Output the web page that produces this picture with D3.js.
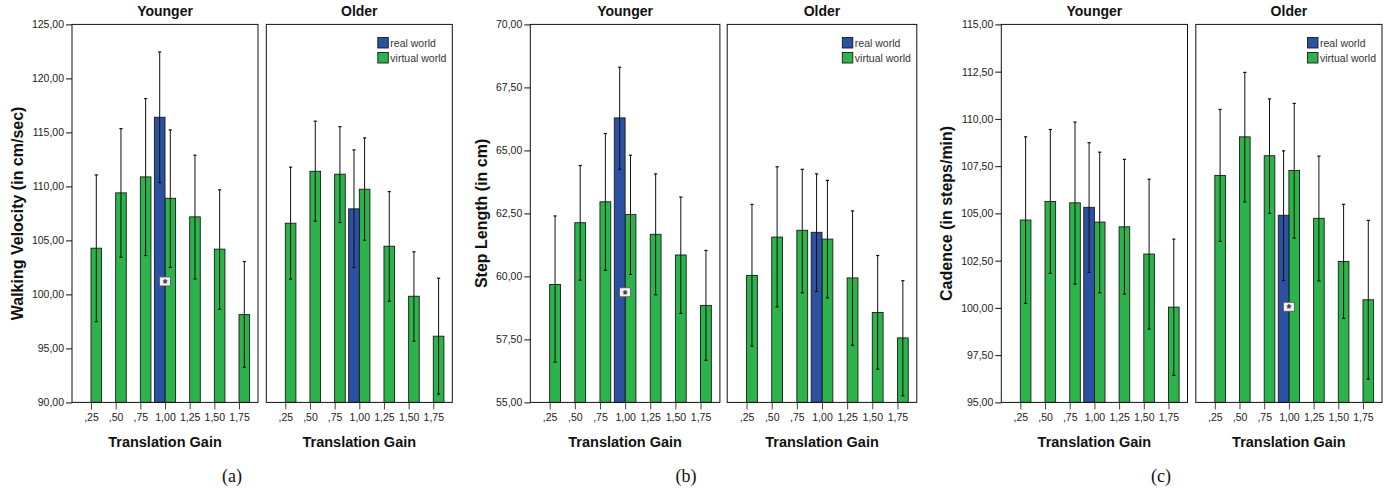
<!DOCTYPE html>
<html>
<head>
<meta charset="utf-8">
<script src="https://cdn.jsdelivr.net/npm/d3@7"></script>
<style>
  body { margin: 0; background: #fff; }
  svg { display: block; font-family: "Liberation Sans", Arial, sans-serif; }
  .tick text { fill: #222; }
</style>
</head>
<body>
<svg id="chart" width="1398" height="495"></svg>
<script>
// categories
const gains = [",25", ",50", ",75", "1,00", "1,25", "1,50", "1,75"];
const groups = ["Younger", "Older"];
const seriesNames = ["real world", "virtual world"];

// (a) walking velocity -- virtual world means + error bar ends, real world [mean, lo, hi]
const velYoungMean = [104.28, 109.4, 110.88, 108.9, 107.18, 104.19, 98.13];
const velYoungLo   = [97.48, 103.44, 103.6, 102.5, 101.43, 98.63, 93.26];
const velYoungHi   = [111.06, 115.35, 118.13, 115.23, 112.89, 109.68, 103.04];
const velYoungReal = [116.4, 110.35, 122.45];
const velOldMean = [106.59, 111.4, 111.13, 109.74, 104.46, 99.83, 96.13];
const velOldLo   = [101.41, 106.78, 106.65, 105.02, 99.37, 95.67, 90.76];
const velOldHi   = [111.78, 116.04, 115.54, 114.49, 109.52, 103.94, 101.5];
const velOldReal = [107.92, 102.48, 113.38];

// (b) step length
const stepYoungMean = [59.68, 62.13, 62.96, 62.46, 61.67, 60.85, 58.85];
const stepYoungLo   = [56.6, 59.85, 60.24, 60.08, 59.27, 58.53, 56.67];
const stepYoungHi   = [62.4, 64.4, 65.67, 64.81, 64.07, 63.15, 61.03];
const stepYoungReal = [66.29, 64.25, 68.3];
const stepOldMean = [60.04, 61.56, 61.83, 61.48, 59.94, 58.57, 57.56];
const stepOldLo   = [57.23, 58.79, 59.35, 59.15, 57.27, 56.32, 55.26];
const stepOldHi   = [62.86, 64.35, 64.25, 63.81, 62.6, 60.83, 59.83];
const stepOldReal = [61.75, 59.4, 64.07];

// (c) cadence
const cadYoungMean = [104.65, 105.63, 105.56, 104.54, 104.29, 102.85, 100.04];
const cadYoungLo   = [100.24, 101.83, 101.26, 100.8, 100.73, 98.88, 96.43];
const cadYoungHi   = [109.05, 109.44, 109.83, 108.24, 107.86, 106.81, 103.64];
const cadYoungReal = [105.32, 101.88, 108.74];
const cadOldMean = [107.01, 109.05, 108.05, 107.27, 104.74, 102.46, 100.43];
const cadOldLo   = [103.52, 105.61, 105.0, 103.69, 101.43, 99.44, 96.23];
const cadOldHi   = [110.5, 112.46, 111.06, 110.82, 108.03, 105.48, 104.63];
const cadOldReal = [104.9, 101.45, 108.31];

// significance markers (value at 1,00; null = none) per group
const velStars = [101.2, null];
const stepStars = [59.37, null];
const cadStars = [null, 100.06];

// y axis ticks
const velTicks = d3.range(90, 125.01, 5);
const stepTicks = d3.range(55, 70.01, 2.5);
const cadTicks = d3.range(95, 115.01, 2.5);

// Page variables
const plotTop = 24.4, plotBottom = 402.4;
const colors = {real: "#2b52a2", virtual: "#2db34b"};

const locale = d3.formatLocale({decimal: ",", thousands: ".", grouping: [3], currency: ["", ""]});
const fmt = locale.format(".2f");

const panels = [
  {tag: "(a)", tagX: 232, label: "Walking Velocity (in cm/sec)", labelX: 17,
   x0: 72, facetW: 186, gap: 8.3, ticks: velTicks, stars: velStars,
   data: [[velYoungMean, velYoungLo, velYoungHi, velYoungReal], [velOldMean, velOldLo, velOldHi, velOldReal]]},
  {tag: "(b)", tagX: 686, label: "Step Length (in cm)", labelX: 481.5,
   x0: 530.3, facetW: 189.6, gap: 7.3, ticks: stepTicks, stars: stepStars,
   data: [[stepYoungMean, stepYoungLo, stepYoungHi, stepYoungReal], [stepOldMean, stepOldLo, stepOldHi, stepOldReal]]},
  {tag: "(c)", tagX: 1161, label: "Cadence (in steps/min)", labelX: 946,
   x0: 1001.3, facetW: 186.2, gap: 8.3, ticks: cadTicks, stars: cadStars,
   data: [[cadYoungMean, cadYoungLo, cadYoungHi, cadYoungReal], [cadOldMean, cadOldLo, cadOldHi, cadOldReal]]},
];

const svg = d3.select("#chart");

function errorBar(g, cx, y, lo, hi) {
  const capW = 1.6;
  g.append("line").attr("x1", cx).attr("x2", cx).attr("y1", y(hi)).attr("y2", y(lo))
    .attr("stroke", "#111").attr("stroke-width", 1);
  [lo, hi].forEach(v => {
    g.append("line").attr("x1", cx - capW).attr("x2", cx + capW).attr("y1", y(v)).attr("y2", y(v))
      .attr("stroke", "#111").attr("stroke-width", 1.2);
  });
}

function drawPanel(p) {
  const ext = d3.extent(p.ticks);
  const y = d3.scaleLinear().domain(ext).range([plotBottom, plotTop]);
  const g = svg.append("g");

  // y axis
  const yAxis = g.append("g")
    .attr("transform", "translate(" + p.x0 + ",0)")
    .call(d3.axisLeft(y).tickValues(p.ticks).tickFormat(fmt).tickSize(6).tickPadding(2));
  yAxis.select(".domain").remove();
  yAxis.selectAll(".tick line").attr("stroke", "#111");
  yAxis.selectAll(".tick text").style("font-size", "10.5px").style("font-family", "Liberation Sans, Arial, sans-serif");

  g.append("text")
    .attr("transform", "translate(" + p.labelX + "," + ((plotTop + plotBottom) / 2) + ") rotate(-90)")
    .attr("text-anchor", "middle").attr("dy", "0.35em")
    .style("font-size", "16px").style("font-weight", "bold").attr("fill", "#111")
    .text(p.label);

  groups.forEach((name, gi) => {
    const fx = p.x0 + gi * (p.facetW + p.gap);
    const [mean, lo, hi, real] = p.data[gi];
    const x = d3.scalePoint().domain(gains).range([fx, fx + p.facetW]).padding(0.77);
    const bw = x.step() * 0.43;
    const f = g.append("g").attr("class", "facet");

    // facet title
    f.append("text").attr("x", fx + p.facetW / 2).attr("y", 16)
      .attr("text-anchor", "middle").style("font-size", "14px").style("font-weight", "bold")
      .attr("fill", "#111").text(name);

    // x axis ticks
    const xAxis = f.append("g")
      .attr("transform", "translate(0," + plotBottom + ")")
      .call(d3.axisBottom(x).tickSize(7).tickPadding(4));
    xAxis.select(".domain").remove();
    xAxis.selectAll(".tick line").attr("stroke", "#444");
    xAxis.selectAll(".tick text").style("font-size", "10.5px").style("font-family", "Liberation Sans, Arial, sans-serif");

    f.append("text").attr("x", fx + p.facetW / 2).attr("y", 447)
      .attr("text-anchor", "middle").style("font-size", "14.5px").style("font-weight", "bold")
      .attr("fill", "#111").text("Translation Gain");

    // virtual world bars
    f.selectAll(".bar")
      .data(mean)
      .enter().append("rect")
      .attr("class", "bar")
      .attr("x", (d, i) => x(gains[i]))
      .attr("y", d => y(d))
      .attr("width", bw)
      .attr("height", d => y(ext[0]) - y(d))
      .attr("fill", colors.virtual)
      .attr("stroke", "#1a1a1a").attr("stroke-width", 0.9);

    // real world bar at 1,00
    const cx = x("1,00");
    f.append("rect")
      .attr("x", cx - bw).attr("y", y(real[0]))
      .attr("width", bw).attr("height", y(ext[0]) - y(real[0]))
      .attr("fill", colors.real)
      .attr("stroke", "#1a1a1a").attr("stroke-width", 0.9);

    // error bars
    mean.forEach((d, i) => errorBar(f, x(gains[i]) + bw / 2, y, lo[i], hi[i]));
    errorBar(f, cx - bw / 2, y, real[1], real[2]);

    // significance marker
    const star = p.stars[gi];
    if (star !== null) {
      f.append("rect").attr("x", cx - 5.5).attr("y", y(star) - 4.5)
        .attr("width", 11).attr("height", 9)
        .attr("fill", "#f2f2f2").attr("stroke", "#555").attr("stroke-width", 0.8);
      f.append("text").attr("x", cx).attr("y", y(star) + 6.5)
        .attr("text-anchor", "middle").style("font-size", "12px").style("font-weight", "bold")
        .attr("fill", "#333").text("*");
    }

    // frame
    f.append("rect").attr("x", fx).attr("y", plotTop)
      .attr("width", p.facetW).attr("height", plotBottom - plotTop)
      .attr("fill", "none").attr("stroke", "#111").attr("stroke-width", 1);

    // legend in the right facet
    if (gi === 1) {
      const lx = fx + p.facetW - 74.5;
      seriesNames.forEach((s, si) => {
        f.append("rect").attr("x", lx).attr("y", 37.5 + si * 15)
          .attr("width", 10.5).attr("height", 10.5)
          .attr("fill", si === 0 ? colors.real : colors.virtual)
          .attr("stroke", "#1a1a1a").attr("stroke-width", 0.9);
        f.append("text").attr("x", lx + 12.5).attr("y", 46.8 + si * 15)
          .style("font-size", "10.5px").attr("fill", "#333").text(s);
      });
    }
  });

  // sub-figure tag
  svg.append("text").attr("x", p.tagX).attr("y", 482)
    .attr("text-anchor", "middle")
    .style("font-family", "Liberation Serif, Times New Roman, serif").style("font-size", "18px")
    .attr("fill", "#111").text(p.tag);
}

panels.forEach(drawPanel);
</script>
</body>
</html>
